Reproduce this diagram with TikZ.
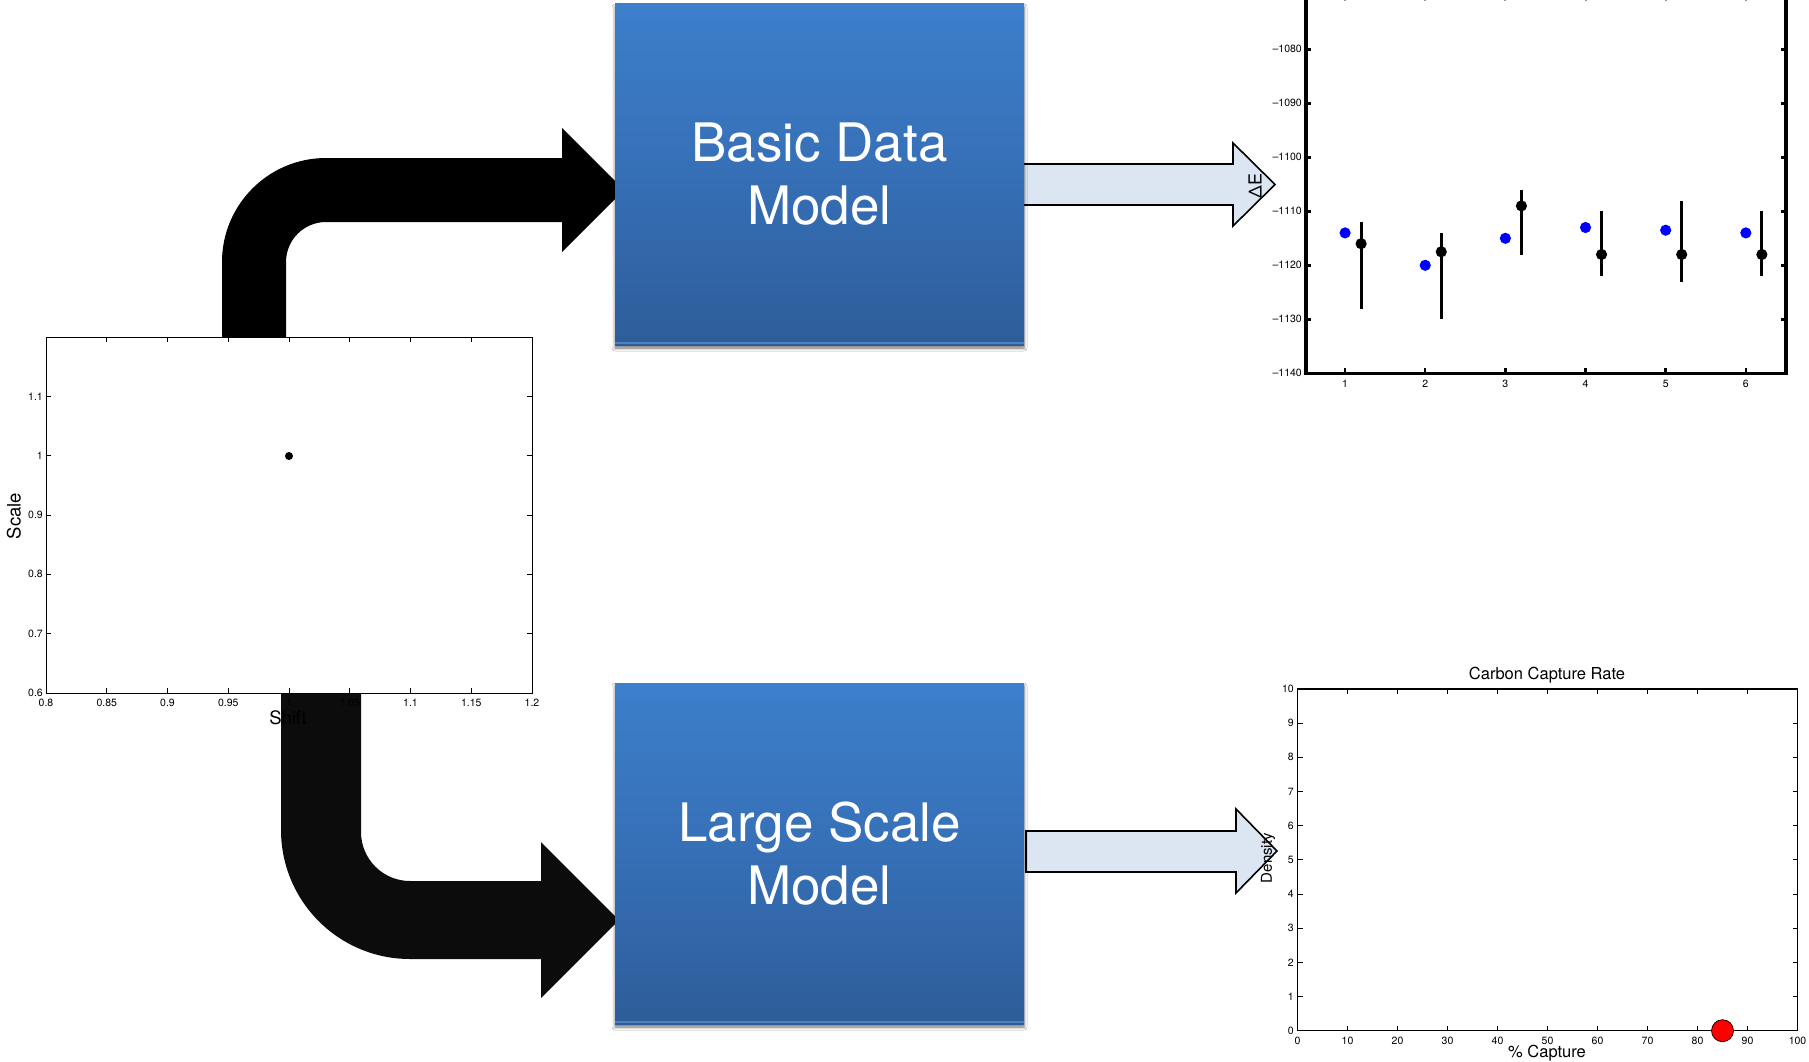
\documentclass[tikz,border=0pt]{standalone}
\usepackage{fontspec}
\setmainfont{TeX Gyre Heros}
\usetikzlibrary{shadows.blur}
\definecolor{boxtop}{RGB}{60,127,203}
\definecolor{boxmid}{RGB}{54,111,182}
\definecolor{boxbot}{RGB}{45,93,153}
\definecolor{boxedge}{RGB}{79,129,189}
\definecolor{lightarrow}{RGB}{220,230,242}
\definecolor{blackarrow}{RGB}{12,12,12}
\tikzset{
  modelbox/.style={rectangle, inner sep=0pt, minimum width=409pt, minimum height=341pt,
    top color=boxtop, bottom color=boxbot, middle color=boxmid, text=white, align=center,
    font=\fontsize{53}{63}\selectfont,
    blur shadow={shadow xshift=0pt, shadow yshift=-3pt, shadow blur radius=3pt, shadow opacity=55}},
  flowarrow/.style={fill=lightarrow, draw=black, line width=1.6pt, line join=miter},
  ticklbl/.style={font=\fontsize{10.5}{12}\selectfont, inner sep=1pt},
  axlbl/.style={font=\fontsize{18.5}{22}\selectfont, inner sep=0pt},
  ttl/.style={font=\fontsize{16.5}{20}\selectfont, inner sep=0pt},
}
\begin{document}
\begin{tikzpicture}[x=1pt,y=-1pt]
\useasboundingbox (0,0) rectangle (1809,1062);
\fill[white] (0,0) rectangle (1809,1062);

% big black block arrows
\fill[black] (222,420) -- (222,262) arc[start angle=180,end angle=270,radius=104]
  -- (562,158) -- (562,128) -- (624,190) -- (562,252) -- (562,222) -- (326,222)
  arc[start angle=270,end angle=180,radius=40] -- (286,420) -- cycle;
\fill[blackarrow] (281,650) -- (281,830) arc[start angle=180,end angle=90,radius=129]
  -- (541,959) -- (541,998) -- (619,920) -- (541,842) -- (541,881) -- (410,881)
  arc[start angle=90,end angle=180,radius=49] -- (361,650) -- cycle;

% plot: Scale vs Shift
\filldraw[fill=white, draw=black, line width=1pt] (46,337) rectangle (532,693);
\foreach \i/\l in {0/0.8,1/0.85,2/0.9,3/0.95,4/1,5/1.05,6/1.1,7/1.15,8/1.2} {
  \draw[line width=0.8pt] ({46+\i*60.75},693) -- ++(0,-5);
  \draw[line width=0.8pt] ({46+\i*60.75},337) -- ++(0,5);
  \node[ticklbl] at ({46+\i*60.75},703) {\l};
}
\foreach \j in {0,...,6} {
  \draw[line width=0.8pt] (46,{693-\j*59.33}) -- ++(5,0);
  \draw[line width=0.8pt] (532,{693-\j*59.33}) -- ++(-5,0);
}
\foreach \j/\l in {0/0.6,1/0.7,2/0.8,3/0.9,4/1,5/1.1} {
  \node[ticklbl, anchor=east] at (44,{693-\j*59.33}) {\l};
}
\fill (289,456) circle[radius=4];
\node[axlbl, rotate=90] (scalelbl) at (14,516) {Scale};
\node[axlbl] (shiftlbl) at (288,718) {Shift};

% light output arrows
\filldraw[flowarrow] (1020,164) -- (1233,164) -- (1233,143) -- (1275,184.5) -- (1233,226) -- (1233,205) -- (1020,205) -- cycle;
\filldraw[flowarrow] (1026,831) -- (1236,831) -- (1236,809) -- (1277,851) -- (1236,893) -- (1236,872) -- (1026,872) -- cycle;

% model boxes
\node[modelbox] (basic) at (819.5,174.5) {Basic Data\\Model};
\draw[boxedge, line width=1.5pt] ([yshift=2pt]basic.south west) -- ([yshift=2pt]basic.south east);
\node[modelbox] (large) at (819.5,853.5) {Large Scale\\Model};
\draw[boxedge, line width=1.5pt] ([yshift=2pt]large.south west) -- ([yshift=2pt]large.south east);

% Delta E plot
\draw[line width=3.5pt] (1306,-4.7) rectangle (1786,373.3);
\foreach \k in {1,...,6} {
  \draw[line width=2.5pt] ({1305+(\k-0.5)*80.15},373.3) -- ++(0,-5);
  \draw[line width=2pt, black!40] ({1305+(\k-0.5)*80.15},-4.7) -- ++(0,6);
  \node[ticklbl] at ({1305+(\k-0.5)*80.15},384) {\k};
}
\foreach \d/\l in {0/1140,10/1130,20/1120,30/1110,40/1100,50/1090,60/1080} {
  \draw[line width=2.5pt] (1306,{373.3-\d*5.4}) -- ++(5,0);
  \draw[line width=2.5pt] (1786,{373.3-\d*5.4}) -- ++(-5,0);
  \node[ticklbl, anchor=east] at (1303,{373.3-\d*5.4}) {\textendash\l};
}
\foreach \k/\b/\m/\lo/\hi in {1/26/24/12/28, 2/20/22.5/10/26, 3/25/31/22/34, 4/27/22/18/30, 5/26.5/22/17/32, 6/26/22/18/30} {
  \fill[blue] ({1305+(\k-0.5)*80.15},{373.3-\b*5.4}) circle[radius=5.6];
  \draw[line width=3pt] ({1305+(\k-0.3)*80.15},{373.3-\lo*5.4}) -- ({1305+(\k-0.3)*80.15},{373.3-\hi*5.4});
  \fill ({1305+(\k-0.3)*80.15},{373.3-\m*5.4}) circle[radius=5.6];
}
\node[axlbl, font=\fontsize{18}{22}\selectfont, rotate=90] (delta) at (1255,186) {ΔE};

% Carbon capture plot
\draw[line width=1.5pt] (1297.5,689) rectangle (1797.5,1030.7);
\foreach \v in {0,10,...,100} {
  \draw[line width=0.9pt] ({1297.5+5*\v},1030.7) -- ++(0,-5);
  \draw[line width=0.9pt] ({1297.5+5*\v},689) -- ++(0,5);
  \node[ticklbl] at ({1297.5+5*\v},1041) {\v};
}
\foreach \j in {0,...,10} {
  \draw[line width=0.9pt] (1297.5,{1030.7-34.17*\j}) -- ++(5,0);
  \draw[line width=0.9pt] (1797.5,{1030.7-34.17*\j}) -- ++(-5,0);
  \node[ticklbl, anchor=east] at (1295,{1030.7-34.17*\j}) {\j};
}
\filldraw[fill=red, draw=black, line width=0.7pt] (1722.5,1030.7) circle[radius=11];
\node[ttl] (title) at (1547,675) {Carbon Capture Rate};
\node[ttl] (xlab) at (1547,1053) {\% Capture};
\node[ttl, font=\fontsize{15}{18}\selectfont, rotate=90] (ylab) at (1268,858) {Density};
\end{tikzpicture}
\end{document}
